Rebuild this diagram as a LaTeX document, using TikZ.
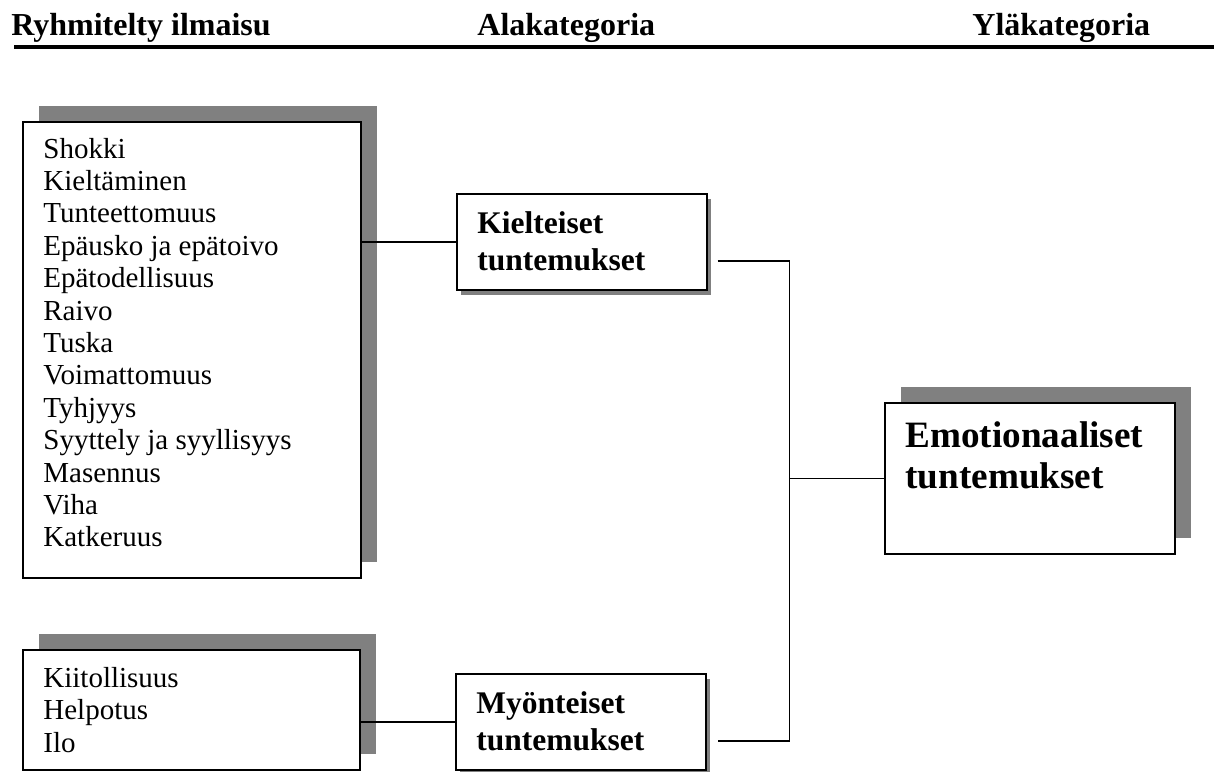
\documentclass[tikz,border=0pt]{standalone}
\usepackage{fontspec}
\setmainfont{Liberation Serif}
\usetikzlibrary{shadows}
\tikzset{
    catbox/.style = {draw,line width=0.75pt,fill=white,inner sep=0pt,anchor=north west},
    bigshadow/.style = {general shadow={shadow xshift=8pt,shadow yshift=8pt,fill=gray}},
    smallshadow/.style = {general shadow={shadow xshift=2pt,shadow yshift=-2.5pt,fill=gray}},
    link/.style = {line width=0.75pt},
    headrule/.style = {line width=2pt},
    header/.style = {font=\bfseries\fontsize{16pt}{19pt}\selectfont,anchor=base west,inner sep=0pt},
    entry/.style = {font=\fontsize{14.5pt}{17pt}\selectfont,anchor=base west,inner sep=0pt},
    cat/.style = {font=\bfseries\fontsize{15.75pt}{19pt}\selectfont,anchor=base west,inner sep=0pt},
    topcat/.style = {font=\bfseries\fontsize{18.6pt}{22pt}\selectfont,anchor=base west,inner sep=0pt}
}
\begin{document}
\begin{tikzpicture}[x=0.5pt,y=-0.5pt]
        \useasboundingbox (0,0) rectangle (1220,771);
        % Header
        \node[header] (hgroup) at (11,35) {Ryhmitelty ilmaisu};
        \node[header] (hsub) at (477,35) {Alakategoria};
        \node[header] (htop) at (972,35) {Yläkategoria};
        \coordinate (rulestart) at (14,47);
        \coordinate (ruleend) at (1214,47);
        \draw[headrule] (rulestart) -- (ruleend);
        % Boxes
        \node[catbox,bigshadow,minimum width=169pt,minimum height=228pt] (neg) at (22,121) {};
        \node[catbox,bigshadow,minimum width=168.5pt,minimum height=60pt] (pos) at (22,649) {};
        \node[catbox,smallshadow,minimum width=125pt,minimum height=48pt] (kiel) at (456,193) {};
        \node[catbox,smallshadow,minimum width=125pt,minimum height=48pt] (myon) at (455,673) {};
        \node[catbox,bigshadow,minimum width=145pt,minimum height=75.5pt] (emo) at (884,402) {};
        % Texts
        \foreach \txt [count=\i] in {Shokki,Kieltäminen,Tunteettomuus,Epäusko ja epätoivo,Epätodellisuus,Raivo,Tuska,Voimattomuus,Tyhjyys,Syyttely ja syyllisyys,Masennus,Viha,Katkeruus}
            \node[entry] (neg\i) at ([shift={(21,{37+(\i-1)*32.4})}]neg.north west) {\txt};
        \foreach \txt [count=\i] in {Kiitollisuus,Helpotus,Ilo}
            \node[entry] (pos\i) at ([shift={(21,{38+(\i-1)*32.5})}]pos.north west) {\txt};
        \node[cat] (kiel1) at ([shift={(21,40)}]kiel.north west) {Kielteiset};
        \node[cat] (kiel2) at ([shift={(21,77)}]kiel.north west) {tuntemukset};
        \node[cat] (myon1) at ([shift={(21,40)}]myon.north west) {Myönteiset};
        \node[cat] (myon2) at ([shift={(21,77)}]myon.north west) {tuntemukset};
        \node[topcat] (emo1) at ([shift={(21,45)}]emo.north west) {Emotionaaliset};
        \node[topcat] (emo2) at ([shift={(21,86)}]emo.north west) {tuntemukset};
        % Connectors
        \coordinate (kielout) at ([shift={(10,19)}]kiel.east);
        \coordinate (myonout) at ([shift={(11,19)}]myon.east);
        \coordinate (spine) at ([shift={(72,0)}]kielout);
        \draw[link] (neg.east |- kiel.west) -- (kiel.west);
        \draw[link] (pos.east |- myon.west) -- (myon.west);
        \draw[link] (kielout) -- (spine) |- (myonout);
        \draw[link] (spine |- emo.west) -- (emo.west);
\end{tikzpicture}
\end{document}
